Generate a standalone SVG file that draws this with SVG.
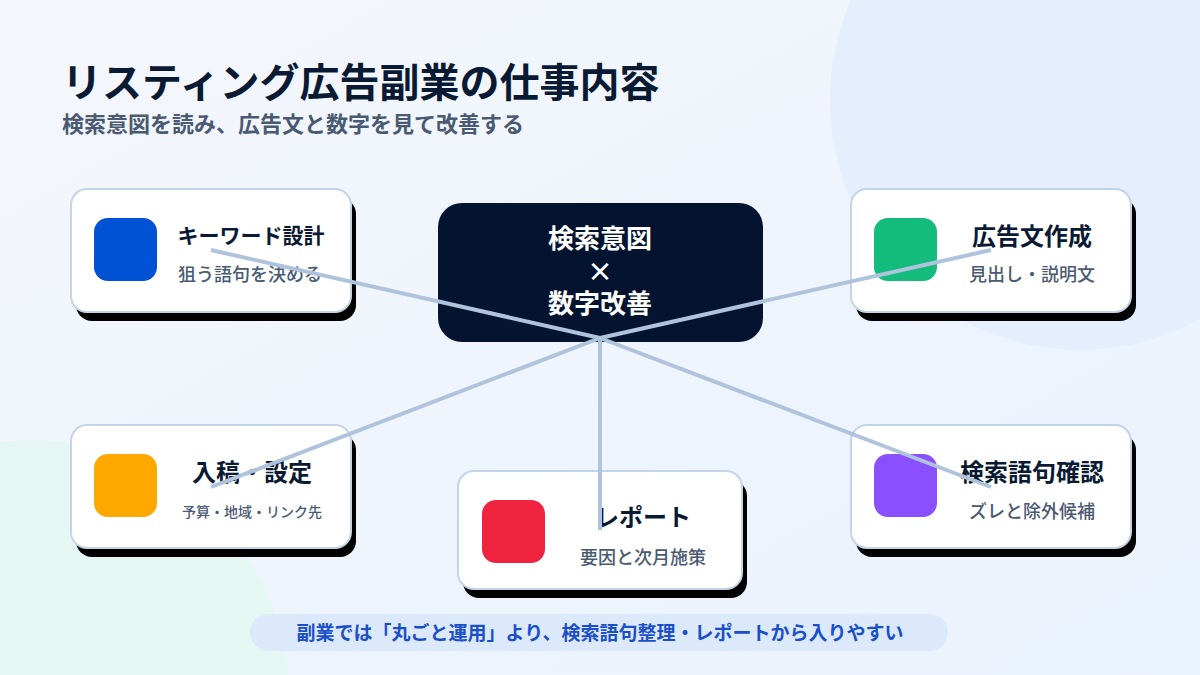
<svg xmlns="http://www.w3.org/2000/svg" width="1200" height="675" viewBox="0 0 1200 675">
  <defs>
    <linearGradient id="bg" x1="0" y1="0" x2="1" y2="1">
      <stop offset="0" stop-color="#f4f7fc"/>
      <stop offset="1" stop-color="#eaf2fd"/>
    </linearGradient>
    <style>
      .jp { font-family: "Noto Sans CJK JP", "Noto Sans", sans-serif; }
      .card { fill: #ffffff; stroke: #c4d4e8; stroke-width: 2; }
      .shadow { fill: #000000; }
      .title { font-weight: 700; fill: #0b1a33; text-anchor: middle; }
      .sub { font-weight: 500; fill: #4a5a72; text-anchor: middle; }
      .center-text { font-size: 26px; font-weight: 700; fill: #ffffff; text-anchor: middle; }
      .link { stroke: #b0c3dc; stroke-width: 4; stroke-linecap: butt; fill: none; }
    </style>
  </defs>

  <rect x="0" y="0" width="1200" height="675" fill="url(#bg)"/>
  <circle cx="1080" cy="100" r="250" fill="#e4eefd"/>
  <circle cx="30" cy="700" r="260" fill="#e4f7f2"/>

  <g id="header" class="jp">
    <text x="62" y="97" font-size="40" font-weight="700" fill="#0b1a33">リスティング広告副業の仕事内容</text>
    <text x="62" y="132" font-size="22" font-weight="700" fill="#4a5a72">検索意図を読み、広告文と数字を見て改善する</text>
  </g>

  <g id="center" class="jp">
    <rect x="438" y="203" width="325" height="139" rx="24" fill="#041430"/>
    <text class="center-text" x="600" y="248">検索意図</text>
    <text class="center-text" x="600" y="281">×</text>
    <text class="center-text" x="600" y="313">数字改善</text>
  </g>

  <g id="node-keyword" class="jp">
    <rect class="shadow" x="76" y="198" width="280" height="123" rx="16"/>
    <rect class="card" x="71" y="189" width="280" height="123" rx="16"/>
    <rect x="94" y="218" width="63" height="63" rx="14" fill="#0052d4"/>
    <text class="title" x="251" y="243" font-size="21">キーワード設計</text>
    <text class="sub" x="250" y="281" font-size="18">狙う語句を決める</text>
  </g>

  <g id="node-adcopy" class="jp">
    <rect class="shadow" x="856" y="198" width="280" height="123" rx="16"/>
    <rect class="card" x="851" y="189" width="280" height="123" rx="16"/>
    <rect x="874" y="218" width="63" height="63" rx="14" fill="#13bc7c"/>
    <text class="title" x="1032" y="245" font-size="24">広告文作成</text>
    <text class="sub" x="1032" y="281" font-size="18">見出し・説明文</text>
  </g>

  <g id="node-setup" class="jp">
    <rect class="shadow" x="76" y="434" width="280" height="123" rx="16"/>
    <rect class="card" x="71" y="425" width="280" height="123" rx="16"/>
    <rect x="94" y="454" width="63" height="63" rx="14" fill="#ffa800"/>
    <text class="title" x="252" y="481" font-size="24">入稿・設定</text>
    <text class="sub" x="252" y="517" font-size="14">予算・地域・リンク先</text>
  </g>

  <g id="node-report" class="jp">
    <rect class="shadow" x="463" y="480" width="284" height="118" rx="16"/>
    <rect class="card" x="458" y="471" width="284" height="118" rx="16"/>
    <rect x="482" y="500" width="63" height="63" rx="14" fill="#f02340"/>
    <text class="title" x="643" y="526" font-size="24">レポート</text>
    <text class="sub" x="643" y="564" font-size="18">要因と次月施策</text>
  </g>

  <g id="node-query" class="jp">
    <rect class="shadow" x="856" y="434" width="280" height="123" rx="16"/>
    <rect class="card" x="851" y="425" width="280" height="123" rx="16"/>
    <rect x="874" y="454" width="63" height="63" rx="14" fill="#8a4fff"/>
    <text class="title" x="1032" y="481" font-size="24">検索語句確認</text>
    <text class="sub" x="1032" y="518" font-size="18">ズレと除外候補</text>
  </g>

  <g id="connectors">
    <line class="link" x1="600" y1="338" x2="211" y2="250"/>
    <line class="link" x1="600" y1="338" x2="991" y2="250"/>
    <line class="link" x1="600" y1="338" x2="211" y2="487"/>
    <line class="link" x1="600" y1="338" x2="600" y2="530"/>
    <line class="link" x1="600" y1="338" x2="991" y2="487"/>
  </g>

  <g id="footer" class="jp">
    <rect x="250" y="614" width="698" height="37" rx="18.5" fill="#dce9fb"/>
    <text x="600" y="640" font-size="19" font-weight="700" fill="#1a4fc9" text-anchor="middle">副業では「丸ごと運用」より、検索語句整理・レポートから入りやすい</text>
  </g>
</svg>
